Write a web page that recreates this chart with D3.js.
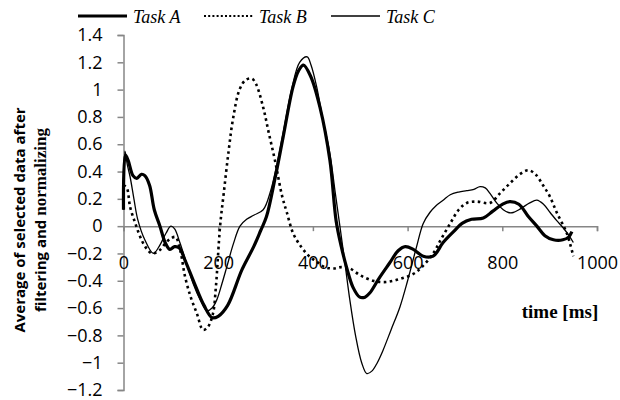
<!DOCTYPE html>
<meta charset="utf-8">
<script src="https://d3js.org/d3.v7.min.js"></script>
<style>
  body { margin: 0; background: #fff; }
  .tick text { font-family: "Open Sans", sans-serif; font-size: 18px; fill: #000; }
</style>
<body>
<div id="chart"></div>
<script>
// series as [time ms, value]
var taskA = [[0,0.12],[4,0.52],[10,0.48],[20,0.37],[28,0.35],[38,0.38],[45,0.37],[55,0.3],[65,0.12],[77,0],
  [88,-0.12],[98,-0.17],[108,-0.15],[118,-0.16],[130,-0.25],[150,-0.42],[170,-0.58],[187,-0.67],[200,-0.66],
  [220,-0.58],[250,-0.32],[275,-0.15],[290,-0.03],[302,0.07],[320,0.35],[337,0.65],[358,1.02],[370,1.14],
  [380,1.18],[395,1.1],[415,0.87],[436,0.48],[449,0.04],[460,-0.15],[471,-0.3],[485,-0.45],[499,-0.52],
  [510,-0.52],[520,-0.49],[540,-0.38],[562,-0.27],[580,-0.18],[595,-0.15],[612,-0.17],[633,-0.22],[654,-0.22],
  [675,-0.12],[697,-0.04],[715,0.02],[735,0.05],[760,0.06],[780,0.11],[800,0.16],[816,0.18],[835,0.16],
  [855,0.07],[873,0.0],[890,-0.07],[908,-0.1],[928,-0.1],[940,-0.08],[947,-0.04]];

var taskB = [[0,0.3],[7,0.28],[14,0.14],[25,0.02],[38,-0.1],[50,-0.17],[60,-0.2],[75,-0.18],[90,-0.12],
  [100,-0.09],[110,-0.08],[120,-0.18],[130,-0.37],[142,-0.52],[155,-0.64],[168,-0.76],[178,-0.74],[189,-0.64],
  [195,-0.45],[204,0],[212,0.25],[222,0.55],[231,0.78],[245,1.0],[258,1.07],[271,1.08],[280,1.04],[295,0.87],
  [307,0.68],[320,0.48],[335,0.22],[345,0.1],[358,-0.05],[375,-0.15],[392,-0.22],[408,-0.26],[425,-0.3],
  [443,-0.31],[460,-0.3],[478,-0.31],[500,-0.36],[527,-0.4],[550,-0.41],[570,-0.4],[590,-0.38],[612,-0.35],
  [630,-0.3],[654,-0.2],[670,-0.1],[690,0.02],[708,0.12],[725,0.17],[746,0.18],[774,0.17],[795,0.24],
  [815,0.31],[837,0.38],[855,0.41],[870,0.38],[886,0.3],[900,0.22],[915,0.1],[936,-0.05],[950,-0.22]];

var taskC = [[0,0.12],[3,0.55],[8,0.45],[14,0.36],[22,0.2],[30,0.05],[45,-0.1],[63,-0.2],[75,-0.15],
  [90,-0.05],[100,0.0],[108,-0.02],[119,-0.12],[133,-0.27],[147,-0.42],[162,-0.54],[176,-0.62],[187,-0.6],
  [197,-0.54],[208,-0.42],[218,-0.3],[232,-0.13],[246,0],[260,0.05],[275,0.08],[295,0.12],[310,0.25],
  [322,0.42],[337,0.68],[355,1.0],[372,1.2],[388,1.24],[396,1.18],[408,1.02],[420,0.8],[436,0.53],[447,0.25],
  [457,0],[468,-0.28],[478,-0.54],[490,-0.8],[503,-1.0],[514,-1.08],[525,-1.06],[536,-1.0],[548,-0.91],
  [565,-0.76],[584,-0.59],[600,-0.4],[619,-0.15],[633,0.02],[647,0.1],[660,0.15],[675,0.19],[690,0.23],
  [708,0.25],[725,0.26],[740,0.27],[753,0.29],[764,0.28],[774,0.24],[788,0.17],[802,0.12],[813,0.1],
  [823,0.1],[835,0.12],[844,0.14],[858,0.17],[873,0.19],[887,0.16],[901,0.1],[915,0.04],[928,-0.01],
  [943,-0.08],[950,-0.12]];

var seriesNames = ["Task A", "Task B", "Task C"];
var xTicks = [0, 200, 400, 600, 800, 1000];
var yTicks = [-1.2, -1, -0.8, -0.6, -0.4, -0.2, 0, 0.2, 0.4, 0.6, 0.8, 1, 1.2, 1.4];

var width = 620, height = 400;
var axisGrey = "#868686";

var svg = d3.select("#chart").append("svg")
  .attr("width", width)
  .attr("height", height);

var x = d3.scaleLinear().domain([0, 1000]).range([123.5, 597]);
var y = d3.scaleLinear().domain([-1.2, 1.4]).range([390, 35]);

// y axis
var yAxis = svg.append("g")
  .attr("transform", "translate(" + x(0) + ",0)")
  .call(d3.axisLeft(y).tickValues(yTicks).tickSize(6).tickPadding(15)
    .tickFormat(function(d) { return d3.format("")(+d.toFixed(1)); }));
yAxis.selectAll("path, line").attr("stroke", axisGrey).attr("stroke-width", 1.5);

// x axis crosses at 0
var xAxis = svg.append("g")
  .attr("transform", "translate(0," + y(0) + ")")
  .call(d3.axisBottom(x).tickValues(xTicks).tickSize(5).tickPadding(25).tickFormat(d3.format("d")));
xAxis.selectAll("path, line").attr("stroke", axisGrey).attr("stroke-width", 1.5);

// lines
var line = d3.line()
  .x(function(d) { return x(d[0]); })
  .y(function(d) { return y(d[1]); })
  .curve(d3.curveCatmullRom);

svg.append("path").datum(taskB)
  .attr("fill", "none").attr("stroke", "#000")
  .attr("stroke-width", 2.6).attr("stroke-dasharray", "2.6,3.4")
  .attr("d", line);

svg.append("path").datum(taskC)
  .attr("fill", "none").attr("stroke", "#000")
  .attr("stroke-width", 1.3)
  .attr("d", line);

svg.append("path").datum(taskA)
  .attr("fill", "none").attr("stroke", "#000")
  .attr("stroke-width", 3.2).attr("stroke-linejoin", "round")
  .attr("d", line);

// legend
var legendX = [78, 204, 331];
var legendStyle = [
  {w: 3.2, dash: null},
  {w: 2, dash: "2,2.2"},
  {w: 1.3, dash: null}
];
seriesNames.forEach(function(name, i) {
  svg.append("line")
    .attr("x1", legendX[i]).attr("x2", legendX[i] + 49)
    .attr("y1", 16).attr("y2", 16)
    .attr("stroke", "#000")
    .attr("stroke-width", legendStyle[i].w)
    .attr("stroke-dasharray", legendStyle[i].dash);
  svg.append("text")
    .attr("x", legendX[i] + 55).attr("y", 23)
    .style("font-family", "'Liberation Serif', serif")
    .style("font-style", "italic")
    .style("font-size", "18px")
    .text(name);
});

// axis titles
var yTitle = svg.append("text")
  .attr("transform", "translate(25,220) rotate(-90)")
  .attr("text-anchor", "middle")
  .style("font-family", "'Open Sans', sans-serif")
  .style("font-weight", "bold")
  .style("font-size", "15px");
yTitle.append("tspan").attr("x", 0).attr("y", 0).text("Average of selected data after");
var line2 = yTitle.append("tspan").attr("x", 0).attr("y", 21);
line2.append("tspan").text("filtering and ");
line2.append("tspan").style("font-family", "'Liberation Serif', serif").style("font-size", "17px").text("normalizing");

svg.append("text")
  .attr("x", 560).attr("y", 318)
  .attr("text-anchor", "middle")
  .style("font-family", "'Liberation Serif', serif")
  .style("font-weight", "bold")
  .style("font-size", "19px")
  .text("time [ms]");
</script>
</body>
